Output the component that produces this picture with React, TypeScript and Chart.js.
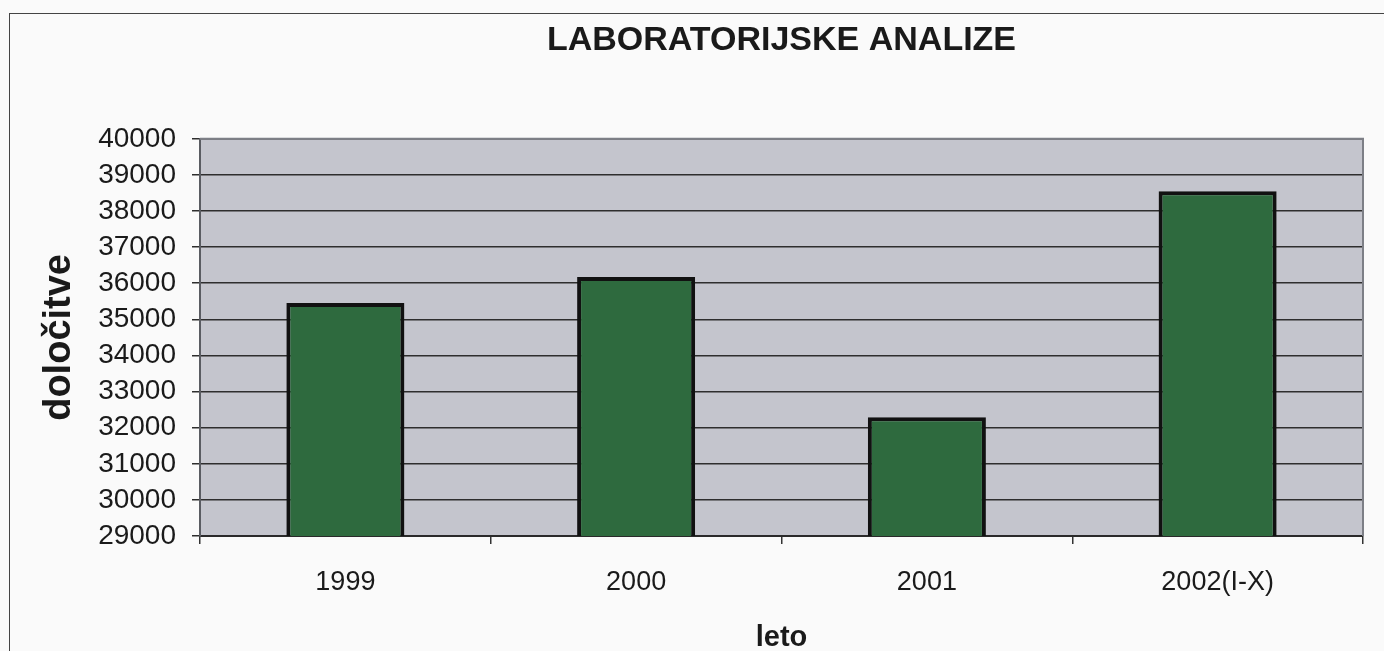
import React, { useEffect, useRef } from "react";
import { Chart, registerables } from "chart.js";

Chart.register(...registerables);

const categories = ["1999", "2000", "2001", "2002(I-X)"];
const values = [35450, 36170, 32290, 38550];
const yMin = 29000;
const yMax = 40000;
const yStep = 1000;
const titleText = "LABORATORIJSKE ANALIZE";
const yTitle = "določitve";
const xTitle = "leto";

const FONT = "'Liberation Sans', Arial, sans-serif";

const plotBg = {
  id: "plotBg",
  beforeDraw(chart: any) {
    const { ctx, chartArea } = chart;
    if (!chartArea) return;
    ctx.save();
    ctx.fillStyle = "#c4c5cd";
    ctx.fillRect(chartArea.left, chartArea.top, chartArea.right - chartArea.left, chartArea.bottom - chartArea.top);
    ctx.restore();
  },
  afterDraw(chart: any) {
    const { ctx, chartArea } = chart;
    if (!chartArea) return;
    ctx.save();
    ctx.strokeStyle = "#7d7f86";
    ctx.lineWidth = 2;
    ctx.beginPath();
    ctx.moveTo(chartArea.left, chartArea.top);
    ctx.lineTo(chartArea.right, chartArea.top);
    ctx.lineTo(chartArea.right, chartArea.bottom);
    ctx.stroke();
    ctx.restore();
  },
};

export default function App() {
  const ref = useRef<HTMLCanvasElement | null>(null);

  useEffect(() => {
    document.body.style.background = "#fafafa";
    if (!ref.current) return;
    const chart = new Chart(ref.current, {
      type: "bar",
      data: {
        labels: categories,
        datasets: [
          {
            data: values,
            backgroundColor: "#2e6a3e",
            borderColor: "#111111",
            borderWidth: 4,
            borderSkipped: false,
            barPercentage: 0.406,
            categoryPercentage: 1,
          },
        ],
      },
      options: {
        animation: false,
        responsive: false,
        layout: { padding: { left: 0, right: 21, top: 0, bottom: 0 } },
        plugins: {
          legend: { display: false },
          tooltip: { enabled: false },
          title: {
            display: true,
            text: titleText,
            fullSize: false,
            color: "#1a1a1a",
            font: { family: FONT, size: 34, weight: "bold" },
            padding: { top: 6, bottom: 78 },
          },
        },
        scales: {
          x: {
            afterFit: (s: any) => {
              s.height = 138;
            },
            grid: {
              display: true,
              offset: true,
              drawOnChartArea: false,
              drawTicks: true,
              tickLength: 8,
              color: "#333333",
              lineWidth: 1.5,
            },
            border: { display: true, color: "#2a2a2a", width: 2 },
            ticks: {
              color: "#1a1a1a",
              padding: 22,
              font: { family: FONT, size: 27 },
              maxRotation: 0,
            },
            title: {
              display: true,
              text: xTitle,
              color: "#1a1a1a",
              font: { family: FONT, size: 29, weight: "bold" },
              padding: { top: 0, bottom: 19 },
            },
          },
          y: {
            min: yMin,
            max: yMax,
            afterFit: (s: any) => {
              s.width = 190;
            },
            grid: {
              color: "#2e2e2e",
              lineWidth: 1.5,
              tickLength: 8,
              drawTicks: true,
            },
            border: { display: true, color: "#5a5c62", width: 2 },
            ticks: {
              stepSize: yStep,
              autoSkip: false,
              color: "#1a1a1a",
              padding: 16,
              font: { family: FONT, size: 28 },
              callback: (v: any) => String(v),
            },
            title: {
              display: true,
              text: yTitle,
              color: "#1a1a1a",
              font: { family: FONT, size: 38, weight: "bold" },
              padding: { top: 27, bottom: 0 },
            },
          },
        },
      },
      plugins: [plotBg],
    });
    return () => chart.destroy();
  }, []);

  return (
    <div
      style={{
        position: "absolute",
        left: 9,
        top: 13,
        width: 1375,
        height: 638,
        boxSizing: "border-box",
        borderTop: "1px solid #444",
        borderLeft: "1px solid #444",
        overflow: "hidden",
        background: "#fafafa",
      }}
    >
      <canvas ref={ref} width={1374} height={660} style={{ display: "block" }} />
    </div>
  );
}
